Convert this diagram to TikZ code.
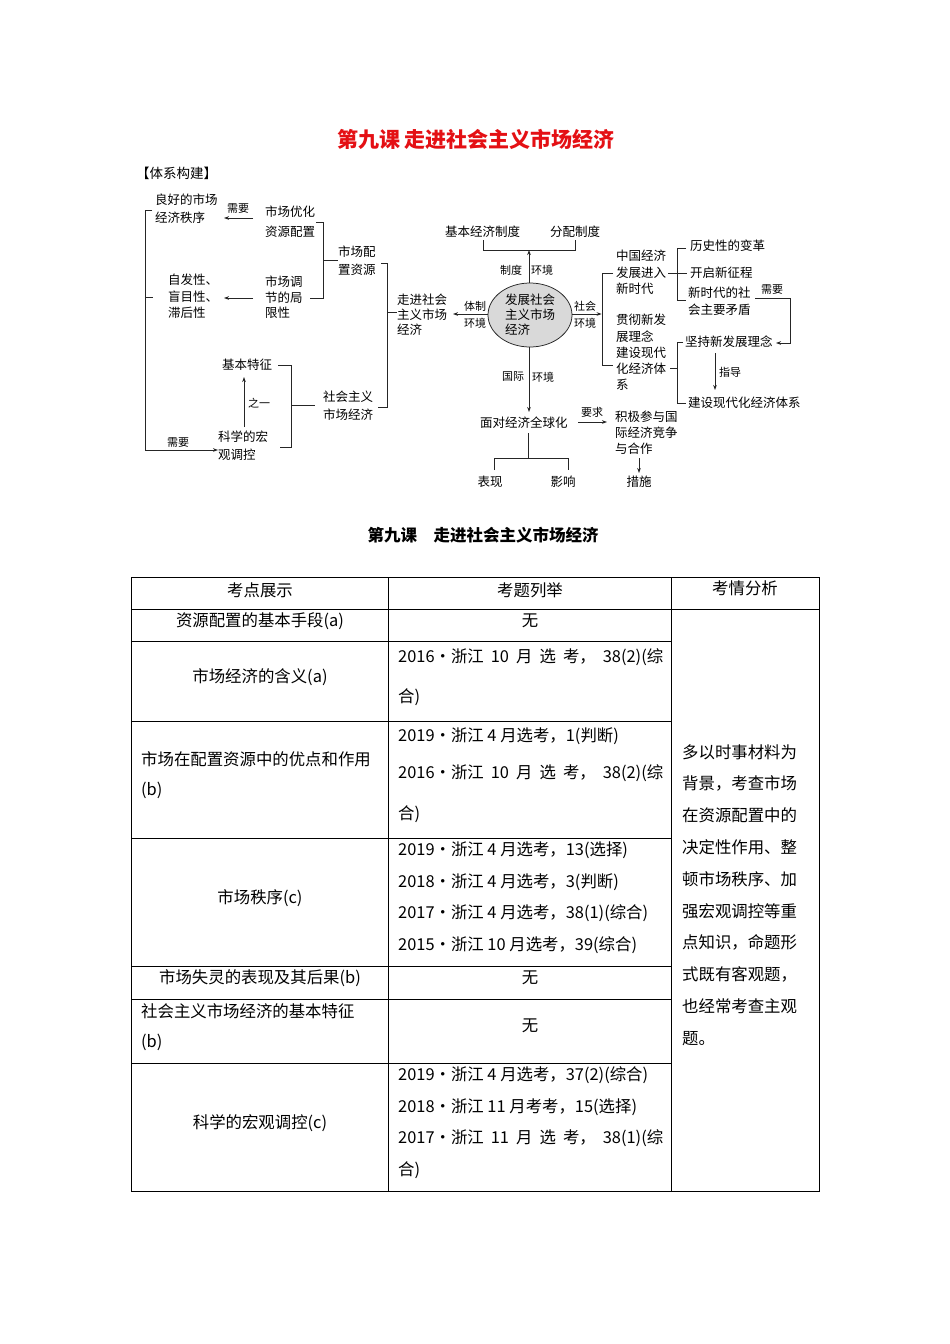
\documentclass[tikz,border=0pt]{standalone}
\usepackage{fontspec}
\setmainfont{Noto Sans CJK SC}
\usetikzlibrary{arrows.meta,shapes.geometric}
\definecolor{tred}{RGB}{228,16,20}
\begin{document}
\begin{tikzpicture}[x=1pt,y=-1pt,
  txt/.style={inner sep=0pt, anchor=west, align=left, font=\fontsize{12.5}{#1}\selectfont},
  txt/.default=16,
  lb/.style={inner sep=0pt, font=\fontsize{11}{12}\selectfont},
  ln/.style={line width=0.75pt, draw=black!85},
  arr/.style={ln, -{Stealth[length=5pt,width=3.6pt]}},
  tb/.style={inner sep=0pt, anchor=west, align=left, font=\fontsize{16.4}{#1}\selectfont},
  tb/.default=20,
  tc/.style={inner sep=0pt, font=\fontsize{16.4}{20}\selectfont},
  grid/.style={line width=0.8pt, draw=black}
]
\fill[white] (0,0) rectangle (950,1344);
\useasboundingbox (0,0) rectangle (950,1344);

% ---------- titles ----------
\node[inner sep=0pt, text=tred, font=\fontsize{21}{21}\bfseries\selectfont] (title) at (476,139) {第九课 走进社会主义市场经济};
\node[inner sep=0pt, anchor=west, font=\fontsize{13.5}{14}\selectfont] (tx) at (136,173) {【体系构建】};

% ---------- diagram nodes ----------
\node[txt=18] (lh) at (155,209) {良好的市场\\经济秩序};
\node[txt=16.5] (zf) at (168,296.5) {自发性、\\盲目性、\\滞后性};
\node[txt=20] (yh) at (265,222) {市场优化\\资源配置};
\node[txt=15.5] (jx) at (265,297.5) {市场调\\节的局\\限性};
\node[txt=18] (pz) at (338,261) {市场配\\置资源};
\node[txt=15] (zj) at (397,315) {走进社会\\主义市场\\经济};
\node[txt] (jb) at (222,365) {基本特征};
\node[txt=18] (kx) at (218,446) {科学的宏\\观调控};
\node[txt=18] (sh) at (323,406) {社会主义\\市场经济};
\node[ellipse, draw=black!85, line width=0.75pt, fill=black!15, minimum width=84pt, minimum height=64pt, inner sep=0pt, align=left, font=\fontsize{12.5}{15}\selectfont] (el) at (530,315) {发展社会\\主义市场\\经济};
\node[txt] (jbz) at (445,232) {基本经济制度};
\node[txt] (fp) at (550,232) {分配制度};
\node[txt=16.5] (zg) at (616,272.5) {中国经济\\发展进入\\新时代};
\node[txt=16.25] (gc) at (616,352.5) {贯彻新发\\展理念\\建设现代\\化经济体\\系};
\node[txt] (ls) at (690,246) {历史性的变革};
\node[txt] (kq) at (690,273) {开启新征程};
\node[txt=17] (xsd) at (688,301.5) {新时代的社\\会主要矛盾};
\node[txt] (jc) at (685,342) {坚持新发展理念};
\node[txt] (js) at (688,403) {建设现代化经济体系};
\node[txt] (md) at (480,423) {面对经济全球化};
\node[txt=16] (jj) at (615,433) {积极参与国\\际经济竞争\\与合作};
\node[txt, anchor=center] (bx) at (490,482) {表现};
\node[txt, anchor=center] (yx) at (563,482) {影响};
\node[txt, anchor=center] (cs) at (639,482) {措施};

% ---------- small labels ----------
\node[lb] (l1) at (238,209) {需要};
\node[lb] (l2) at (178,443) {需要};
\node[lb] (l3) at (259,403) {之一};
\node[lb] (l4) at (511,270) {制度};
\node[lb] (l5) at (542,270) {环境};
\node[lb] (l6) at (475,306) {体制};
\node[lb] (l7) at (475,323) {环境};
\node[lb] (l8) at (585,306) {社会};
\node[lb] (l9) at (585,323) {环境};
\node[lb] (l10) at (513,377) {国际};
\node[lb] (l11) at (543,377) {环境};
\node[lb] (l12) at (772,290) {需要};
\node[lb] (l13) at (730,372) {指导};
\node[lb] (l14) at (592,412) {要求};

% ---------- connectors ----------
% left big bracket
\draw[ln] (152,210) -- (145,210) -- (145,450);
\draw[ln] (145,297) -- (153,297);
\draw[arr] (145,450) -- (kx.west |- 0,450);
% arrows needing
\draw[arr] (yh.west |- 0,218) ++(-12,0) -- (224,218);
\draw[arr] (jx.west |- 0,298) ++(-12,0) -- (224,298);
% bracket yh / jx -> pz
\draw[ln] (316,222) -- (323,222) -- (323,298) -- (310,298);
\draw[ln] (323,260) -- (pz.west |- 0,260) ++(-6,0);
% bracket pz / sh -> zj
\draw[ln] (381,263) -- (387,263) -- (387,407) -- (378,407);
\draw[ln] (387,312) -- (zj.west |- 0,312);
% bracket jb / kx -> sh
\draw[ln] (278,365) -- (291,365) -- (291,447) -- (280,447);
\draw[ln] (291,405) -- (315,405);
\draw[arr] (kx.north -| 244,0) ++(0,-4) -- (244,377);
% ellipse up
\draw[arr] (el.north -| 529,0) -- (529,250);
\draw[ln] (483,240) -- (483,250) -- (575,250) -- (575,240);
% ellipse left
\draw[arr] (el.west |- 0,314) -- (453,314);
% ellipse right
\draw[arr] (el.east |- 0,314) -- (601.6,314);
\draw[ln] (613,273) -- (602,273) -- (602,365) -- (613,365);
% zg bracket
\draw[ln] (668,273) -- (687,273);
\draw[ln] (686,248) -- (677,248) -- (677,300) -- (686,300);
% needs arrow
\draw[arr] (755,298) -- (790,298) -- (790,343) -- (776,343);
% gc bracket
\draw[ln] (670,368) -- (677,368);
\draw[ln] (683,342) -- (677,342) -- (677,403) -- (686,403);
\draw[arr] (715,353) -- (715,390);
% ellipse down
\draw[arr] (el.south -| 529,0) -- (529,412);
\draw[arr] (578,422) -- (607,422);
\draw[ln] (528,433) -- (528,458);
\draw[ln] (494,470) -- (494,458) -- (568,458) -- (568,470);
\draw[arr] (639,458) -- (639,473);

% ---------- subtitle ----------
\node[inner sep=0pt, font=\fontsize{16.5}{17}\bfseries\selectfont] (sub) at (483,535) {第九课　走进社会主义市场经济};

% ---------- table ----------
\draw[grid] (131,577) rectangle (819,1191);
\draw[grid] (388,577) -- (388,1191);
\draw[grid] (671,577) -- (671,1191);
\draw[grid] (131,609) -- (819,609);
\foreach \yy in {641,721,838,966,999,1063} \draw[grid] (131,\yy) -- (671,\yy);

\node[tc] (h1) at (260,590) {考点展示};
\node[tc] (h2) at (530,590) {考题列举};
\node[tc] (h3) at (745,588) {考情分析};

\node[tc] (a1) at (260,621) {资源配置的基本手段(a)};
\node[tc] (b1) at (530,621) {无};

\node[tc] (a2) at (260,677) {市场经济的含义(a)};
\node[tb] (b2a) at (398,657) {\makebox[265pt][s]{2016•浙江 10 月 选 考， 38(2)(综}};
\node[tb] (b2b) at (398,697) {合)};

\node[tb] (a3a) at (141,759) {市场在配置资源中的优点和作用};
\node[tb] (a3b) at (141,790) {(b)};
\node[tb] (b3a) at (398,736) {2019•浙江 4 月选考，1(判断)};
\node[tb] (b3b) at (398,773) {\makebox[265pt][s]{2016•浙江 10 月 选 考， 38(2)(综}};
\node[tb] (b3c) at (398,814) {合)};

\node[tc] (a4) at (260,898) {市场秩序(c)};
\node[tb] (b4a) at (398,850) {2019•浙江 4 月选考，13(选择)};
\node[tb] (b4b) at (398,882) {2018•浙江 4 月选考，3(判断)};
\node[tb] (b4c) at (398,913) {2017•浙江 4 月选考，38(1)(综合)};
\node[tb] (b4d) at (398,945) {2015•浙江 10 月选考，39(综合)};

\node[tc] (a5) at (260,978) {市场失灵的表现及其后果(b)};
\node[tc] (b5) at (530,978) {无};

\node[tb] (a6a) at (141,1011) {社会主义市场经济的基本特征};
\node[tb] (a6b) at (141,1042) {(b)};
\node[tc] (b6) at (530,1026) {无};

\node[tc] (a7) at (260,1123) {科学的宏观调控(c)};
\node[tb] (b7a) at (398,1075) {2019•浙江 4 月选考，37(2)(综合)};
\node[tb] (b7b) at (398,1107) {2018•浙江 11 月考考，15(选择)};
\node[tb] (b7c) at (398,1138) {\makebox[265pt][s]{2017•浙江 11 月 选 考， 38(1)(综}};
\node[tb] (b7d) at (398,1170) {合)};

\node[tb=31.8] (c1) at (682,895) {多以时事材料为\\背景，考查市场\\在资源配置中的\\决定性作用、整\\顿市场秩序、加\\强宏观调控等重\\点知识，命题形\\式既有客观题，\\也经常考查主观\\题。};
\end{tikzpicture}
\end{document}
